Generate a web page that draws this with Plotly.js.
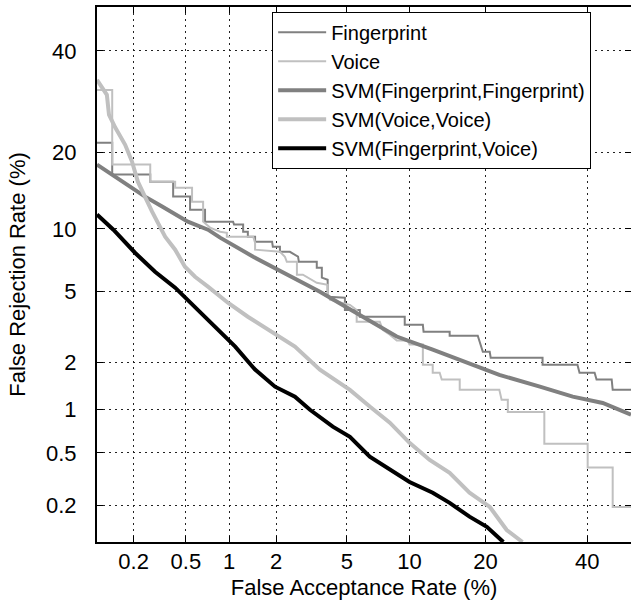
<!DOCTYPE html>
<html>
<head>
<meta charset="utf-8">
<script src="https://cdn.plot.ly/plotly-3.0.1.min.js"></script>
<style>html,body{margin:0;padding:0;background:#fff;}#chart{width:631px;height:600px;}</style>
</head>
<body>
<div id="chart"></div>
<script>
// DET curves: False Acceptance Rate (%) vs False Rejection Rate (%)
const tickPercents = [0.2, 0.5, 1, 2, 5, 10, 20, 40];
const tickLabels = ["0.2", "0.5", "1", "2", "5", "10", "20", "40"];
const axisMinPercent = 0.1;
const axisMaxPercent = 50;

const seriesNames = ["Fingerprint", "Voice", "SVM(Fingerprint,Fingerprint)", "SVM(Voice,Voice)", "SVM(Fingerprint,Voice)"];

const faFingerprint = [0.1, 0.134, 0.134, 0.270, 0.270, 0.403, 0.403, 0.536, 0.536, 0.685, 0.685, 1.065, 1.08, 1.24, 1.24, 1.33, 1.33, 1.48, 1.48, 1.89, 1.91, 2.11, 2.11, 2.42, 2.70, 2.73, 3.45, 3.45, 3.68, 3.68, 3.96, 3.96, 4.89, 4.89, 5.83, 5.83, 9.52, 9.52, 11.42, 11.5, 14.7, 14.7, 18.76, 19.24, 19.56, 20.68, 20.84, 30.44, 30.44, 37.83, 38.29, 41.66, 42.1, 45.55, 45.78, 50];
const frFingerprint = [21.64, 21.64, 16.65, 16.65, 15.65, 15.65, 13.67, 13.67, 12.09, 12.09, 10.75, 10.75, 10.44, 10.44, 9.71, 9.71, 9.23, 9.23, 8.76, 8.76, 8.31, 8.31, 7.87, 7.87, 7.46, 7.05, 7.05, 6.61, 6.61, 5.90, 5.76, 4.71, 4.65, 4.01, 4.01, 3.68, 3.68, 3.32, 3.32, 3.03, 3.03, 2.88, 2.88, 2.56, 2.32, 2.32, 2.14, 2.14, 1.94, 1.94, 1.73, 1.73, 1.57, 1.57, 1.35, 1.35];

const faVoice = [0.1, 0.134, 0.134, 0.270, 0.270, 0.417, 0.417, 0.554, 0.554, 0.664, 0.664, 0.743, 0.871, 0.967, 0.967, 1.44, 1.48, 1.48, 2.11, 2.26, 2.32, 2.66, 2.66, 2.88, 3.45, 3.96, 3.96, 4.07, 5.19, 5.62, 5.62, 7.30, 7.54, 8.14, 8.76, 9.81, 10.0, 11.42, 11.42, 12.56, 12.56, 13.41, 13.67, 16.08, 16.08, 22.3, 22.7, 23.8, 23.8, 30.8, 30.8, 40.1, 40.1, 45.78, 45.78, 50];
const frVoice = [31.6, 31.6, 18.14, 18.14, 15.65, 15.65, 14.84, 14.84, 13.03, 13.03, 10.75, 10.13, 9.71, 9.61, 9.23, 9.23, 8.67, 8.05, 7.87, 7.46, 7.05, 7.05, 6.10, 6.10, 5.56, 5.43, 4.94, 4.54, 4.27, 4.01, 3.45, 3.45, 3.11, 2.92, 2.70, 2.70, 2.56, 2.56, 1.94, 1.94, 1.73, 1.73, 1.57, 1.57, 1.35, 1.35, 1.166, 1.166, 0.967, 0.967, 0.582, 0.582, 0.390, 0.390, 0.194, 0.194];

const faSvmFF = [0.1, 0.134, 0.181, 0.246, 0.333, 0.517, 0.718, 0.871, 1.44, 2.32, 3.59, 6.03, 8.76, 12.56, 17.08, 22.3, 29.9, 36.8, 43.5, 50];
const frSvmFF = [18.14, 16.65, 15.25, 13.67, 12.45, 10.75, 9.92, 9.14, 7.46, 6.10, 5.0, 3.68, 2.85, 2.39, 1.99, 1.68, 1.415, 1.22, 1.11, 0.926];

const faSvmVV = [0.1, 0.121, 0.126, 0.142, 0.171, 0.194, 0.216, 0.246, 0.279, 0.351, 0.417, 0.492, 0.582, 0.718, 0.983, 1.33, 1.78, 2.59, 3.59, 5.19, 6.53, 8.14, 10.0, 12.2, 14.7, 17.5, 20.7, 23.6, 26.5];
const frSvmVV = [33.7, 30.6, 26.7, 24.3, 21.3, 18.6, 15.65, 13.54, 11.86, 9.23, 8.05, 6.68, 5.96, 5.31, 4.38, 3.68, 3.11, 2.49, 1.81, 1.35, 1.05, 0.818, 0.591, 0.444, 0.357, 0.251, 0.194, 0.126, 0.1];

const faSvmFV = [0.1, 0.137, 0.205, 0.294, 0.417, 0.582, 0.805, 1.10, 1.48, 1.97, 2.59, 3.16, 4.22, 5.19, 6.53, 8.14, 10.0, 12.56, 14.7, 17.5, 20.2, 23.0];
const frSvmFV = [11.53, 9.92, 7.79, 6.31, 5.25, 4.17, 3.24, 2.49, 1.81, 1.415, 1.22, 1.0, 0.768, 0.653, 0.469, 0.376, 0.304, 0.251, 0.209, 0.162, 0.134, 0.1];

// inverse standard normal CDF (Acklam) -> normal deviate scale of a DET plot
function probit(p) {
  const a = [-3.969683028665376e+01, 2.209460984245205e+02, -2.759285104469687e+02, 1.383577518672690e+02, -3.066479806614716e+01, 2.506628277459239e+00];
  const b = [-5.447609879822406e+01, 1.615858368580409e+02, -1.556989798598866e+02, 6.680131188771972e+01, -1.328068155288572e+01];
  const c = [-7.784894002430293e-03, -3.223964580411365e-01, -2.400758277161838e+00, -2.549732539343734e+00, 4.374664141464968e+00, 2.938163982698783e+00];
  const d = [7.784695709041462e-03, 3.224671290700398e-01, 2.445134137142996e+00, 3.754408661907416e+00];
  const plow = 0.02425, phigh = 1 - plow;
  let q, r;
  if (p < plow) {
    q = Math.sqrt(-2 * Math.log(p));
    return (((((c[0]*q+c[1])*q+c[2])*q+c[3])*q+c[4])*q+c[5]) / ((((d[0]*q+d[1])*q+d[2])*q+d[3])*q+1);
  }
  if (p <= phigh) {
    q = p - 0.5; r = q * q;
    return (((((a[0]*r+a[1])*r+a[2])*r+a[3])*r+a[4])*r+a[5])*q / (((((b[0]*r+b[1])*r+b[2])*r+b[3])*r+b[4])*r+1);
  }
  q = Math.sqrt(-2 * Math.log(1 - p));
  return -(((((c[0]*q+c[1])*q+c[2])*q+c[3])*q+c[4])*q+c[5]) / ((((d[0]*q+d[1])*q+d[2])*q+d[3])*q+1);
}
const toDev = arr => arr.map(v => probit(v / 100));

const FONT = "Liberation Sans, Arial, Helvetica, sans-serif";
const styles = [
  {color: "#808080", width: 2},
  {color: "#c0c0c0", width: 2},
  {color: "#808080", width: 4},
  {color: "#c0c0c0", width: 4},
  {color: "#000000", width: 4}
];
const xs = [faFingerprint, faVoice, faSvmFF, faSvmVV, faSvmFV];
const ys = [frFingerprint, frVoice, frSvmFF, frSvmVV, frSvmFV];

const traces = seriesNames.map((name, i) => ({
  type: "scatter", mode: "lines", name: name,
  x: toDev(xs[i]), y: toDev(ys[i]),
  line: {color: styles[i].color, width: styles[i].width},
  hoverinfo: "skip"
}));

const range = [probit(axisMinPercent / 100), probit(axisMaxPercent / 100)];
const tickVals = toDev(tickPercents);
const axisCommon = {
  range: range,
  tickmode: "array", tickvals: tickVals, ticktext: tickLabels,
  ticks: "inside", ticklen: 6, tickwidth: 1, tickcolor: "#000",
  showline: true, linecolor: "#000", linewidth: 2, mirror: "ticks",
  showgrid: true, gridcolor: "#222", gridwidth: 1, griddash: "2px,4px",
  zeroline: false, layer: "above traces",
  tickfont: {family: FONT, size: 22, color: "#000"}
};

const layout = {
  width: 631, height: 600,
  margin: {l: 97, r: 0, t: 7, b: 58},
  paper_bgcolor: "#fff", plot_bgcolor: "#fff",
  font: {family: FONT, size: 22, color: "#000"},
  xaxis: Object.assign({}, axisCommon, {
    ticklabelstandoff: -1,
    title: {text: "False Acceptance Rate (%)", font: {family: FONT, size: 22, color: "#000"}, standoff: 6}
  }),
  yaxis: Object.assign({}, axisCommon, {
    ticklabelstandoff: 14,
    title: {text: "False Rejection Rate (%)", font: {family: FONT, size: 22, color: "#000"}, standoff: 14}
  }),
  showlegend: true,
  legend: {
    x: 0.328, y: 0.991, xanchor: "left", yanchor: "top",
    bgcolor: "#fff", bordercolor: "#000", borderwidth: 1,
    font: {family: FONT, size: 20, color: "#000"},
    tracegroupgap: 0, itemwidth: 48
  }
};

Plotly.newPlot("chart", traces, layout, {staticPlot: true, displayModeBar: false});
</script>
</body>
</html>
